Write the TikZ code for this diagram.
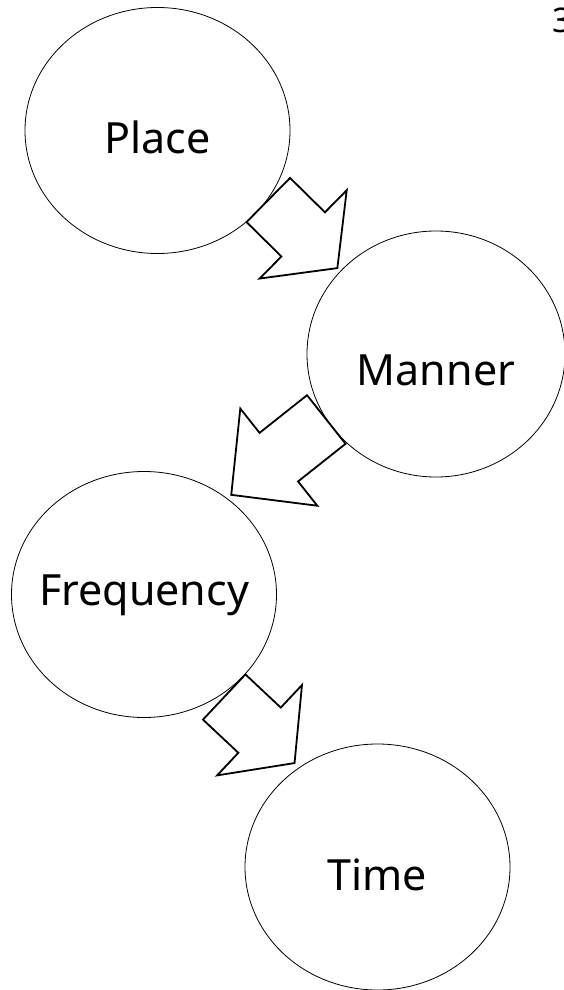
\documentclass[tikz,border=0pt]{standalone}
\usepackage{fontspec}
\setmainfont{Noto Sans}
\usetikzlibrary{shapes.geometric}

\tikzset{
    blob/.style={draw, ellipse, line width=0.8pt, inner sep=0pt, minimum width=265pt, minimum height=246pt},
    word/.style={font=\fontsize{43}{50}\selectfont, inner sep=0pt, text depth=0pt},
    pics/fatarrow/.style 2 args={code={
        \draw[line width=1.8pt, line join=miter, fill=white]
            (0,31) -- (#1,31) -- (#1,62) -- ({#1+#2},0) -- (#1,-62) -- (#1,-31) -- (0,-31) -- cycle;
    }}
}

\begin{document}
\begin{tikzpicture}[x=1pt, y=1pt]
    \useasboundingbox (0,0) rectangle (563,-990);
    % the four steps
    \node[blob, label={[word, text height=45pt]center:Place}] (place) at (157.5,-130.5) {};
    \node[blob, minimum width=258pt, label={[word, text height=62pt]center:Manner}] (manner) at (436,-354) {};
    \node[blob, label={[word, text height=21pt]center:Frequency}] (freq) at (144,-594.5) {};
    \node[blob, label={[word, text height=46pt]center:Time}] (time) at (377.5,-867) {};
    % block arrows between them
    \pic[rotate=-44.6] at (268.3,-200) {fatarrow={49}{48}};
    \pic[rotate=218.4] at (326.3,-419.5) {fatarrow={60.6}{60.7}};
    \pic[rotate=-43.2] at (224.2,-697) {fatarrow={48.5}{48}};
    % cut off mark in the corner
    \node[font=\fontsize{34}{40}\selectfont, anchor=base west, inner sep=0pt] (mark) at (552,-33) {3};
\end{tikzpicture}
\end{document}
